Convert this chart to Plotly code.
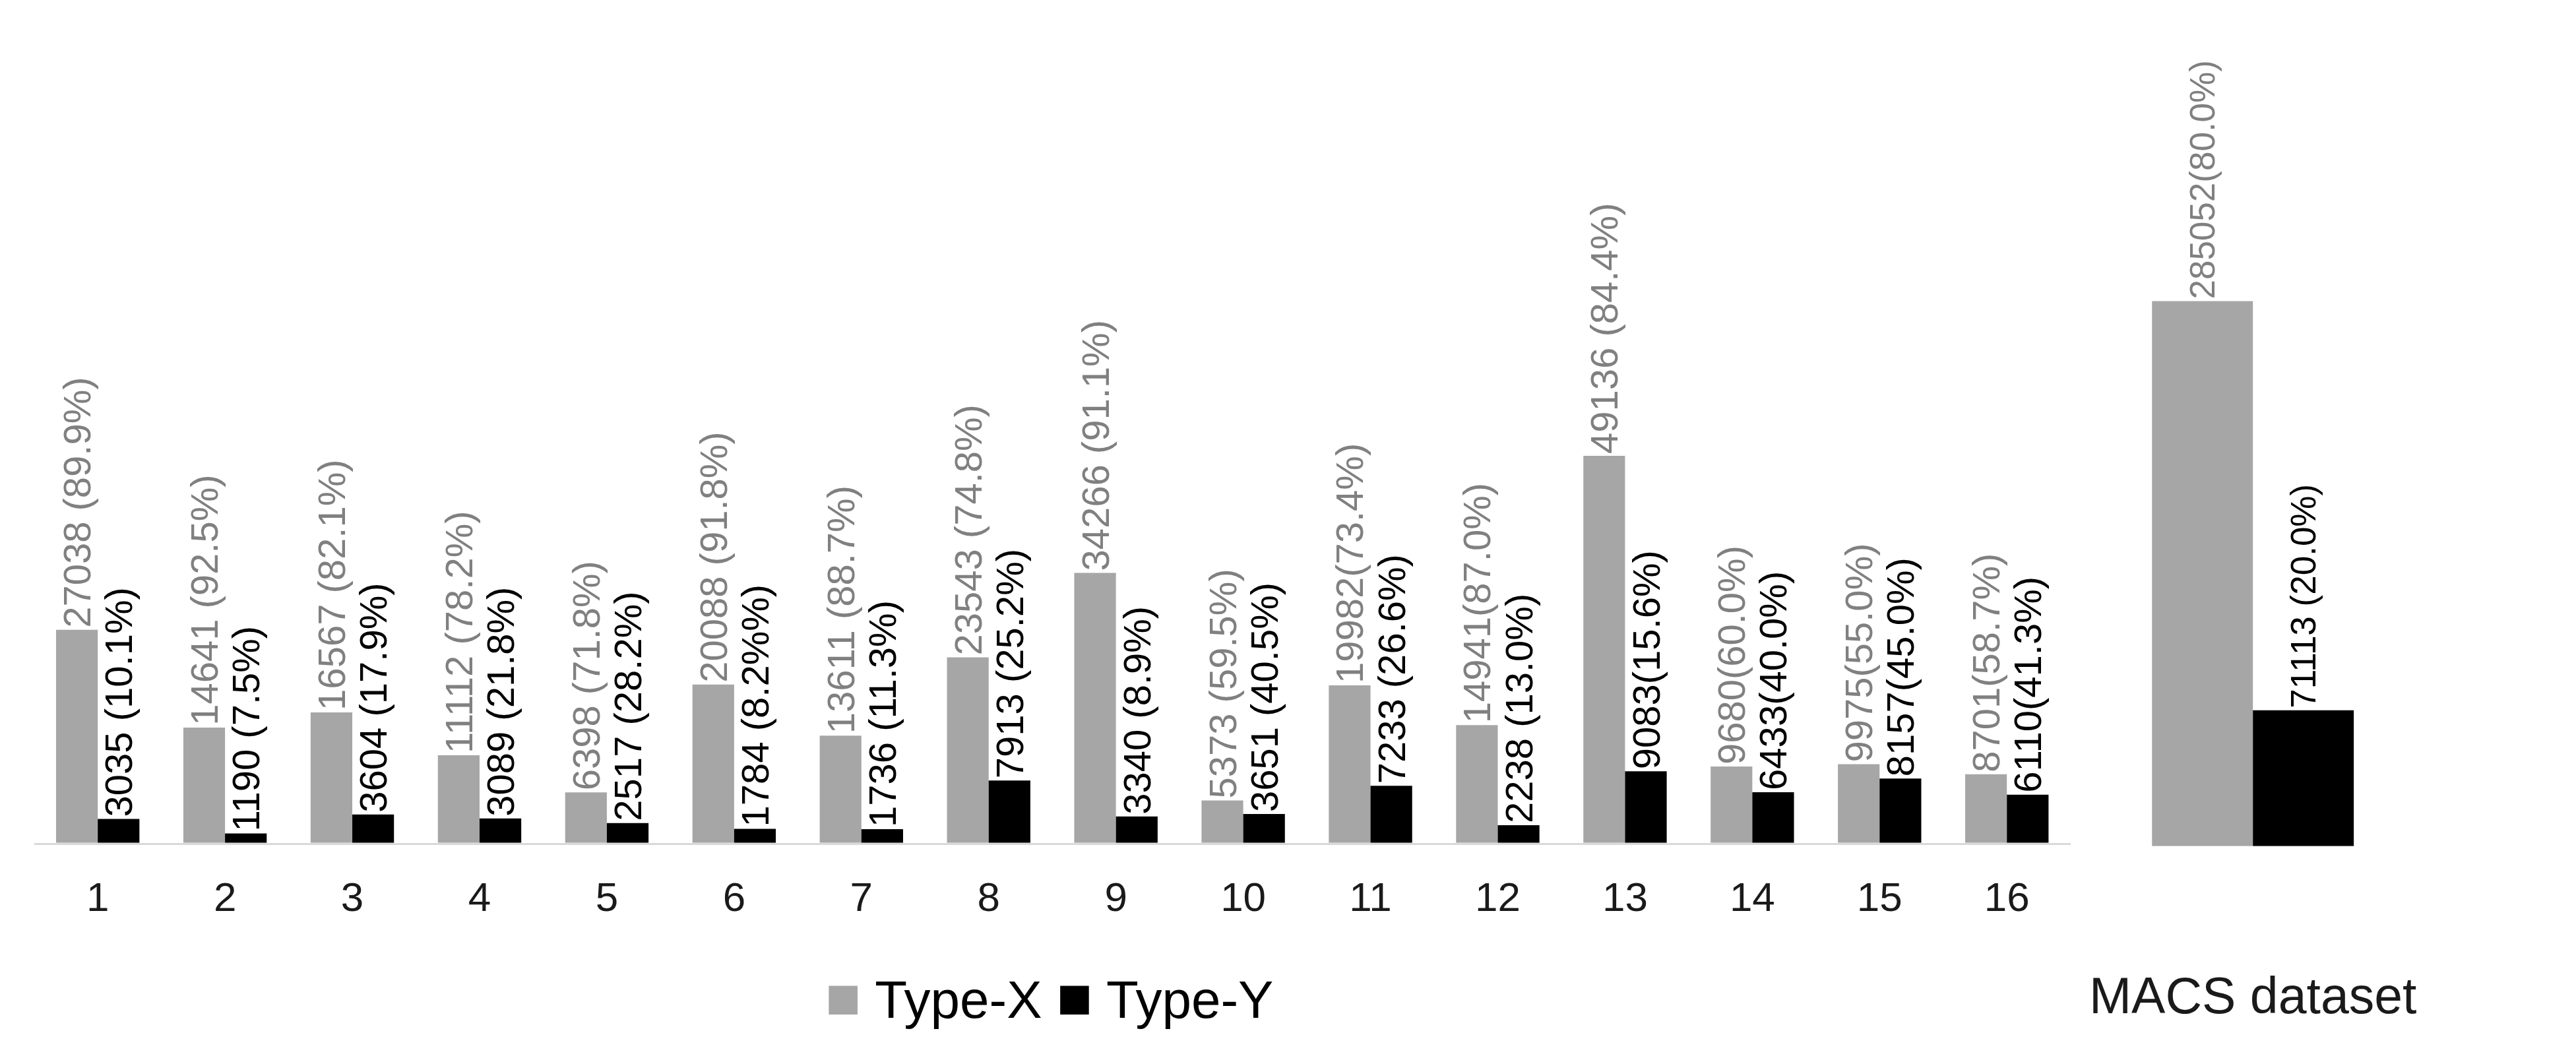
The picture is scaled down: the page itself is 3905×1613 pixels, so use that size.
import plotly.graph_objects as go

# ---------------- data ----------------
groups = [str(i) for i in range(1, 17)]
type_x = [27038, 14641, 16567, 11112, 6398, 20088, 13611, 23543, 34266, 5373,
          19982, 14941, 49136, 9680, 9975, 8701]
type_y = [3035, 1190, 3604, 3089, 2517, 1784, 1736, 7913, 3340, 3651,
          7233, 2238, 9083, 6433, 8157, 6110]
type_x_labels = ["27038 (89.9%)", "14641 (92.5%)", "16567 (82.1%)", "11112 (78.2%)",
                 "6398 (71.8%)", "20088 (91.8%)", "13611 (88.7%)", "23543 (74.8%)",
                 "34266 (91.1%)", "5373 (59.5%)", "19982(73.4%)", "14941(87.0%)",
                 "49136 (84.4%)", "9680(60.0%)", "9975(55.0%)", "8701(58.7%)"]
type_y_labels = ["3035 (10.1%)", "1190 (7.5%)", "3604 (17.9%)", "3089 (21.8%)",
                 "2517 (28.2%)", "1784 (8.2%%)", "1736 (11.3%)", "7913 (25.2%)",
                 "3340 (8.9%)", "3651 (40.5%)", "7233 (26.6%)", "2238 (13.0%)",
                 "9083(15.6%)", "6433(40.0%)", "8157(45.0%)", "6110(41.3%)"]

macs_group = ["MACS dataset"]
macs_x = [285052]
macs_y = [71113]
macs_x_labels = ["285052(80.0%)"]
macs_y_labels = ["71113 (20.0%)"]

series_names = ["Type-X", "Type-Y"]

# ---------------- style ----------------
GRAY = "#a6a6a6"
GRAY_TXT = "#808080"
BLACK = "#000000"
FONT = "Liberation Sans, Arial, sans-serif"

W_FIG, H_FIG, OFF = 3889, 1597, 8
XS, XO = 3859.0, 23.3   # observed horizontal mapping of paper -> screen


def px_x(X):
    return (X - XO) / XS


def px_y(Y):
    return 1 - (Y - OFF) / H_FIG


LEFT_BASE, RIGHT_BASE = 1277.7, 1282.8
LEFT_UPP, RIGHT_UPP = 83.75, 345.0

fig = go.Figure()

fig.add_trace(go.Bar(x=groups, y=type_x, name=series_names[0], marker_color=GRAY,
                     text=type_x_labels, textposition="outside", textangle=-90,
                     textfont=dict(size=58, color=GRAY_TXT, family=FONT),
                     cliponaxis=False, constraintext="none",
                     xaxis="x", yaxis="y", showlegend=False))
fig.add_trace(go.Bar(x=groups, y=type_y, name=series_names[1], marker_color=BLACK,
                     text=type_y_labels, textposition="outside", textangle=-90,
                     textfont=dict(size=58, color=BLACK, family=FONT),
                     cliponaxis=False, constraintext="none",
                     xaxis="x", yaxis="y", showlegend=False))
fig.add_trace(go.Bar(x=macs_group, y=macs_x, name=series_names[0], marker_color=GRAY,
                     text=macs_x_labels, textposition="outside", textangle=-90,
                     textfont=dict(size=53, color=GRAY_TXT, family=FONT),
                     cliponaxis=False, constraintext="none",
                     xaxis="x2", yaxis="y2", showlegend=False))
fig.add_trace(go.Bar(x=macs_group, y=macs_y, name=series_names[1], marker_color=BLACK,
                     text=macs_y_labels, textposition="outside", textangle=-90,
                     textfont=dict(size=53, color=BLACK, family=FONT),
                     cliponaxis=False, constraintext="none",
                     xaxis="x2", yaxis="y2", showlegend=False))

for tr in fig.data:
    tr.marker.line.width = 0

fig.update_layout(
    width=W_FIG, height=H_FIG,
    margin=dict(l=0, r=0, t=0, b=0, pad=0),
    paper_bgcolor="white", plot_bgcolor="white",
    barmode="group", bargap=0.345, bargroupgap=0,
    font=dict(family=FONT, color="#1a1a1a"),
    xaxis=dict(domain=[px_x(52), px_x(3139)], anchor="y", type="category",
               showline=True, linecolor="#d9d9d9", linewidth=3, ticks="",
               showgrid=False, zeroline=False,
               tickfont=dict(size=62, color="#1a1a1a", family=FONT),
               ticklabelstandoff=26),
    yaxis=dict(domain=[px_y(LEFT_BASE), 1], anchor="x",
               range=[0, (LEFT_BASE - OFF) * LEFT_UPP],
               visible=False, showgrid=False, zeroline=False),
    xaxis2=dict(domain=[px_x(3182), px_x(3649)], anchor="y2", type="category",
                showline=False, ticks="", showgrid=False, zeroline=False,
                tickfont=dict(size=77, color="#1a1a1a", family=FONT),
                ticklabelstandoff=175),
    yaxis2=dict(domain=[px_y(RIGHT_BASE), 1], anchor="x2",
                range=[0, (RIGHT_BASE - OFF) * RIGHT_UPP],
                visible=False, showgrid=False, zeroline=False),
)

legend_text = (f'<span style="color:{GRAY};font-size:90px">■</span> {series_names[0]} '
               f'<span style="color:{BLACK};font-size:90px">■</span> {series_names[1]}')
fig.add_annotation(text=legend_text, xref="paper", yref="paper",
                   x=px_x(1591), y=px_y(1512), xanchor="center", yanchor="middle",
                   showarrow=False, font=dict(size=80, color="#000000", family=FONT))

fig.write_html("out.html")
